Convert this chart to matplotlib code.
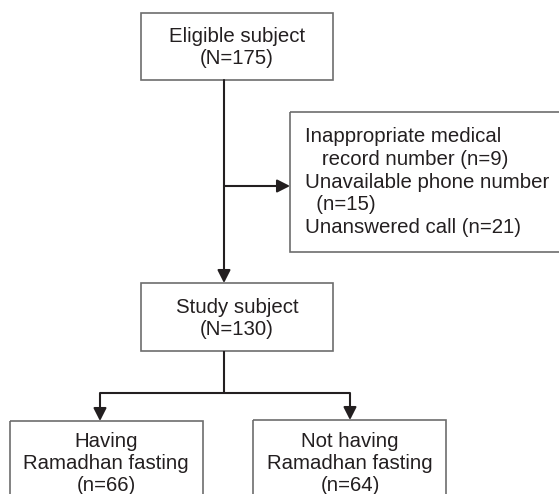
import matplotlib
matplotlib.use("Agg")
import matplotlib.pyplot as plt
from matplotlib.patches import Rectangle, FancyArrowPatch

plt.rcParams['font.family'] = ['Liberation Sans', 'DejaVu Sans']

# Flowchart content
top_label = "Eligible subject\n(N=175)"
study_label = "Study subject\n(N=130)"
exclusion_lines = [
    "Inappropriate medical",
    "   record number (n=9)",
    "Unavailable phone number",
    "  (n=15)",
    "Unanswered call (n=21)",
]
group_labels = [
    "Having\nRamadhan fasting\n(n=66)",
    "Not having\nRamadhan fasting\n(n=64)",
]

W, H = 559, 494
fig = plt.figure(figsize=(W / 100, H / 100), dpi=100)
ax = fig.add_axes([0, 0, 1, 1])
ax.set_xlim(0, W)
ax.set_ylim(H, 0)
ax.axis('off')

box_ec = '#6d6d6d'
line_c = '#231f20'
txt_c = '#231f20'
fs = 14.7


def box(x0, y0, x1, y1):
    ax.add_patch(Rectangle((x0, y0), x1 - x0, y1 - y0, fill=False,
                           ec=box_ec, lw=1.2, clip_on=True))


def arrow(p0, p1):
    ax.add_patch(FancyArrowPatch(p0, p1, arrowstyle='-|>,head_length=0.55,head_width=0.28',
                                 mutation_scale=14, color=line_c, lw=1.5,
                                 shrinkA=0, shrinkB=0))


def line(xs, ys):
    ax.plot(xs, ys, color=line_c, lw=1.5, solid_capstyle='butt')


# top box
box(141, 13, 333, 80)
ax.text(237, 48, top_label, ha='center', va='center', fontsize=fs, color=txt_c, linespacing=1.2)

# main vertical arrow
arrow((224, 80), (224, 283))

# side arrow to exclusion box
arrow((224, 186), (290, 186))
box(290, 112, 570, 252)
ax.text(305, 182, "\n".join(exclusion_lines), ha='left', va='center', fontsize=fs,
        color=txt_c, linespacing=1.26)

# study box
box(141, 283, 333, 351)
ax.text(237, 318, study_label, ha='center', va='center', fontsize=fs, color=txt_c, linespacing=1.2)

# split
line([224, 224], [351, 393])
line([100, 350], [393, 393])
arrow((100, 393), (100, 421))
arrow((350, 393), (350, 420))

# group boxes
box(10, 421, 203, 520)
box(253, 420, 446, 520)
ax.text(106, 463, group_labels[0], ha='center', va='center', fontsize=fs, color=txt_c, linespacing=1.2)
ax.text(350, 463, group_labels[1], ha='center', va='center', fontsize=fs, color=txt_c, linespacing=1.2)

fig.savefig("out.png", dpi=100)
